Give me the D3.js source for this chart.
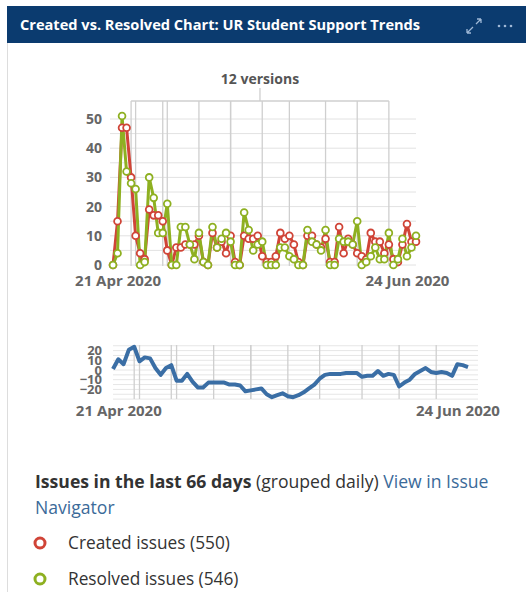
<!DOCTYPE html>
<html>
<head>
<meta charset="utf-8">
<script src="https://cdn.jsdelivr.net/npm/d3@7"></script>
<style>
  body { margin: 0; background: #fff; }
  svg { display: block; }
</style>
</head>
<body>
<script>
// Created vs. Resolved chart (daily counts, 20 Apr - 26 Jun 2020)
var title = "Created vs. Resolved Chart: UR Student Support Trends";
var start_day = new Date(2020, 3, 20);
var end_day = new Date(2020, 5, 27);
var days = d3.timeDay.range(start_day, end_day);

var created = [0, 15, 47, 47, 30, 10, 4, 2, 19, 17,
               17, 15, 5, 0, 6, 6, 7, 7, 7, 10,
               1, 0, 11, 6, 8, 4, 10, 1, 0, 10,
               9, 9, 10, 3, 1, 1, 3, 11, 9, 10,
               7, 1, 0, 10, 10, 7, 6, 9, 1, 1,
               13, 4, 9, 7, 4, 3, 2, 11, 8, 8,
               4, 7, 2, 1, 7, 14, 8, 8];
var resolved = [0, 4, 51, 32, 28, 26, 0, 1, 30, 23,
                11, 11, 21, 0, 0, 13, 13, 7, 2, 11,
                1, 0, 13, 6, 9, 11, 8, 0, 0, 18,
                12, 5, 7, 8, 0, 0, 0, 6, 6, 3,
                2, 0, 0, 12, 8, 7, 5, 12, 0, 0,
                9, 8, 8, 7, 15, 0, 1, 3, 6, 2,
                2, 11, 0, 2, 9, 3, 6, 10];
// lower chart: unresolved trend
var trend = [1, 11, 6, 21, 24, 9, 13, 12, 2, -5,
             2, 5, -11, -11, -4, -12, -18, -18, -13, -13,
             -13, -13, -15, -15, -16, -22, -21, -20, -19, -25,
             -28, -26, -24, -27, -28, -26, -23, -19, -15, -9,
             -5, -4, -4, -4, -3, -3, -3, -7, -6, -6,
             -1, -6, -4, -5, -17, -13, -10, -4, -1, 2,
             -2, -3, -2, -3, -6, 6, 5, 3];
// version release days (index into days)
var version_days = [4, 5, 11, 12, 19, 26, 26, 33, 39, 47, 54, 61];
var version_label = "12 versions";
var x_tick_dates = [new Date(2020, 3, 21), new Date(2020, 5, 24)];
var main_ticks = [0, 10, 20, 30, 40, 50];
var trend_ticks = [20, 10, 0, -10, -20];
var legend_items = ["Created issues (550)", "Resolved issues (546)"];

var red = "#d04437";
var green = "#8eb021";
var blue = "#3a6ea5";
var axis_color = "#666";
var font = "'Segoe UI', 'Open Sans', sans-serif";
var fmt = d3.timeFormat("%-d %b %Y");

var svg = d3.select("body").append("svg")
    .attr("width", 526)
    .attr("height", 592)
    .style("font-family", font);

// panel + header
svg.append("rect").attr("x", 7.5).attr("y", 6.5).attr("width", 530).attr("height", 600)
    .attr("fill", "#fff").attr("stroke", "#ddd");
svg.append("rect").attr("x", 7).attr("y", 6).attr("width", 519).attr("height", 37)
    .attr("fill", "#0b3b6f");
svg.append("text").attr("x", 20).attr("y", 30)
    .attr("fill", "#fff").attr("font-size", 14.6).attr("font-weight", "bold")
    .text(title);
// expand icon
var icon = svg.append("g").attr("stroke", "#9fb8d6").attr("stroke-width", 1.3).attr("fill", "none");
icon.append("path").attr("d", "M467,33 L473,27 M467,33 L467,29 M467,33 L471,33");
icon.append("path").attr("d", "M476,24 L481,19 M481,19 L477,19 M481,19 L481,23");
[499, 505, 511].forEach(function (cx) {
    svg.append("circle").attr("cx", cx).attr("cy", 26).attr("r", 1.3).attr("fill", "#9fb8d6");
});

/* ---------------- main chart ---------------- */
var x = d3.scaleTime().domain([start_day, days[days.length - 1]]).range([113, 416]);
var y = d3.scaleLinear().domain([0, 50]).range([265, 119]);

var grid = svg.append("g");
grid.selectAll("line").data(d3.range(0, 51, 5)).enter().append("line")
    .attr("x1", 110).attr("x2", 416)
    .attr("y1", function (d) { return y(d); })
    .attr("y2", function (d) { return y(d); })
    .attr("stroke", "#e2e2e2");

// version markers
var vx = version_days.map(function (i) { return x(days[i]); });
svg.selectAll(".ver").data(vx).enter().append("line")
    .attr("x1", function (d) { return d; }).attr("x2", function (d) { return d; })
    .attr("y1", 101).attr("y2", 266)
    .attr("stroke", "#cfcfcf").attr("stroke-width", 1.3);
svg.append("line").attr("x1", d3.min(vx)).attr("x2", d3.max(vx)).attr("y1", 101).attr("y2", 101)
    .attr("stroke", "#cfcfcf").attr("stroke-width", 1.3);
var mid = (d3.min(vx) + d3.max(vx)) / 2;
svg.append("line").attr("x1", mid).attr("x2", mid).attr("y1", 88).attr("y2", 101)
    .attr("stroke", "#cfcfcf").attr("stroke-width", 1.3);
svg.append("text").attr("x", mid).attr("y", 84).attr("text-anchor", "middle")
    .attr("font-size", 14).attr("font-weight", "bold").attr("fill", "#555")
    .text(version_label);

var yAxis = svg.append("g").attr("transform", "translate(102,0)")
    .call(d3.axisLeft(y).tickValues(main_ticks).tickSize(0).tickPadding(0));
yAxis.select(".domain").remove();
yAxis.selectAll("text").attr("font-size", 14).attr("font-weight", "bold")
    .attr("fill", axis_color).style("font-family", font);

var xAxis = svg.append("g").attr("transform", "translate(0,275)")
    .call(d3.axisBottom(x).tickValues(x_tick_dates).tickFormat(fmt).tickSize(0).tickPadding(0));
xAxis.select(".domain").remove();
xAxis.selectAll("text").attr("font-size", 15).attr("font-weight", "bold")
    .attr("fill", axis_color).style("font-family", font);

var line = d3.line()
    .x(function (d, i) { return x(days[i]); })
    .y(function (d) { return y(d); });

svg.append("path").datum(created).attr("d", line)
    .attr("fill", "none").attr("stroke", red).attr("stroke-width", 3).attr("stroke-linejoin", "round");
svg.append("path").datum(resolved).attr("d", line)
    .attr("fill", "none").attr("stroke", green).attr("stroke-width", 3).attr("stroke-linejoin", "round");

function dots(data, color) {
    svg.append("g").selectAll("circle").data(data).enter().append("circle")
        .attr("cx", function (d, i) { return x(days[i]); })
        .attr("cy", function (d) { return y(d); })
        .attr("r", 3.4)
        .attr("fill", "#fff").attr("stroke", color).attr("stroke-width", 1.8);
}
dots(created, red);
dots(resolved, green);

/* ---------------- lower (trend) chart ---------------- */
var x2 = d3.scaleTime().domain([start_day, days[days.length - 1]]).range([113, 468]);
var y2 = d3.scaleLinear().domain([-20, 20]).range([389.4, 350.6]);

svg.append("g").selectAll("line").data(d3.range(-30, 26, 5)).enter().append("line")
    .attr("x1", 113).attr("x2", 478)
    .attr("y1", function (d) { return y2(d); })
    .attr("y2", function (d) { return y2(d); })
    .attr("stroke", "#e6e6e6");
svg.selectAll(".ver2").data(version_days).enter().append("line")
    .attr("x1", function (d) { return x2(days[d]); }).attr("x2", function (d) { return x2(days[d]); })
    .attr("y1", 345).attr("y2", 399)
    .attr("stroke", "#cfcfcf").attr("stroke-width", 1.3);

var yAxis2 = svg.append("g").attr("transform", "translate(102,0)")
    .call(d3.axisLeft(y2).tickValues(trend_ticks).tickSize(0).tickPadding(0));
yAxis2.select(".domain").remove();
yAxis2.selectAll("text").attr("font-size", 13).attr("font-weight", "bold")
    .attr("fill", axis_color).style("font-family", font);

var xAxis2 = svg.append("g").attr("transform", "translate(0,405)")
    .call(d3.axisBottom(x2).tickValues(x_tick_dates).tickFormat(fmt).tickSize(0).tickPadding(0));
xAxis2.select(".domain").remove();
xAxis2.selectAll("text").attr("font-size", 15).attr("font-weight", "bold")
    .attr("fill", axis_color).style("font-family", font);

var line2 = d3.line()
    .x(function (d, i) { return x2(days[i]); })
    .y(function (d) { return y2(d); });
svg.append("path").datum(trend).attr("d", line2)
    .attr("fill", "none").attr("stroke", blue).attr("stroke-width", 4).attr("stroke-linejoin", "round");

/* ---------------- footer text + legend ---------------- */
var t = svg.append("text").attr("x", 35).attr("y", 488).attr("font-size", 17.6).attr("fill", "#333");
t.append("tspan").attr("font-weight", "bold").text("Issues in the last 66 days");
t.append("tspan").text(" (grouped daily) ");
t.append("tspan").attr("fill", "#3b6a99").text("View in Issue");
svg.append("text").attr("x", 35).attr("y", 514).attr("font-size", 17.6).attr("fill", "#3b6a99")
    .text("Navigator");

var legend = svg.append("g").selectAll("g").data(legend_items).enter().append("g")
    .attr("transform", function (d, i) { return "translate(0," + (543 + i * 36) + ")"; });
legend.append("circle").attr("cx", 40).attr("cy", 0).attr("r", 5)
    .attr("fill", "none").attr("stroke-width", 3)
    .attr("stroke", function (d, i) { return i === 0 ? red : green; });
legend.append("text").attr("x", 68).attr("y", 6).attr("font-size", 17.3).attr("fill", "#333")
    .text(function (d) { return d; });
</script>
</body>
</html>
